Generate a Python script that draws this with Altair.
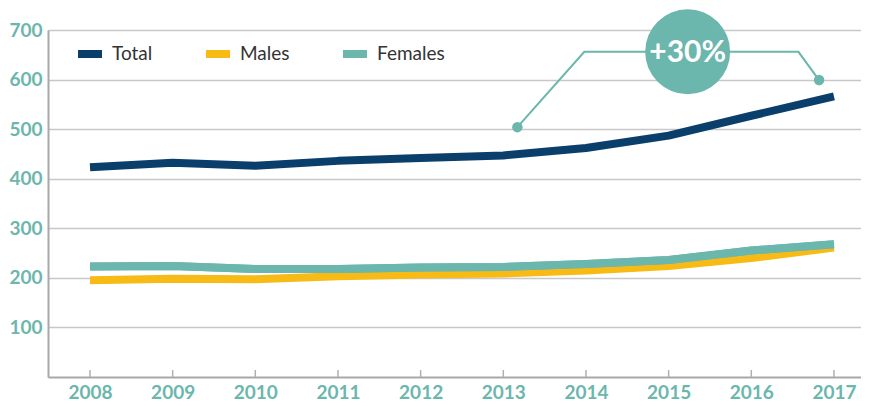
import altair as alt
import pandas as pd

years = [2008, 2009, 2010, 2011, 2012, 2013, 2014, 2015, 2016, 2017]
total = [423, 432, 426, 436, 442, 447, 462, 487, 527, 566]
males = [195, 198, 197, 203, 207, 209, 215, 224, 240, 261]
females = [223, 224, 218, 218, 221, 222, 228, 236, 255, 268]
series = ["Total", "Males", "Females"]
colors = ["#0b3f6b", "#f8bb16", "#6bb6ad"]
y_ticks = [100, 200, 300, 400, 500, 600, 700]

# annotation connector (+30% between 2013 and 2017)
ann_x = [2013.17, 2013.98, 2016.57, 2016.82]
ann_y = [504, 656, 656, 599]
bubble_x = [2015.23]
bubble_y = [656]
bubble_text = ["+30%"]

TEAL = "#6bb6ad"

rows = []
for name, vals in zip(series, [total, males, females]):
    for yr, v in zip(years, vals):
        rows.append({"year": yr, "value": v, "series": name})
df = pd.DataFrame(rows)
df_f = df[df.series == "Females"]

xs = alt.Scale(domain=[2007.492, 2017.327], nice=False, zero=False)
ys = alt.Scale(domain=[0, 700], nice=False)

x_enc = alt.X("year:Q", scale=xs, axis=alt.Axis(
    values=years, format="d", title=None, grid=False, ticks=False,
    domainColor="#a8a8a8", domainWidth=2, labelColor=TEAL, labelFont="Lato",
    labelFontWeight="bold", labelFontSize=19, labelPadding=6))
y_enc = alt.Y("value:Q", scale=ys, axis=alt.Axis(
    values=y_ticks, title=None, ticks=False, grid=True, gridColor="#c8c8c8",
    gridWidth=1.5, domainColor="#a8a8a8", domainWidth=2, labelColor=TEAL,
    labelFont="Lato", labelFontWeight="bold", labelFontSize=19, labelPadding=6))

lines = alt.Chart(df).mark_line(strokeWidth=8, strokeCap="butt", strokeJoin="round").encode(
    x=x_enc, y=y_enc,
    color=alt.Color("series:N", scale=alt.Scale(domain=series, range=colors),
                    legend=alt.Legend(
                        orient="none", legendX=26, legendY=8, direction="horizontal",
                        columns=3, title=None, padding=0, symbolType="stroke",
                        symbolStrokeWidth=8, symbolSize=576, labelOffset=6,
                        columnPadding=37, labelFont="Lato", labelFontSize=19,
                        labelColor="#333333", labelLimit=200)),
)

fem = alt.Chart(df_f).mark_line(strokeWidth=8, strokeCap="butt", strokeJoin="round",
                                color=colors[2]).encode(x="year:Q", y="value:Q")

ticks_df = pd.DataFrame({"year": years})
ticks = alt.Chart(ticks_df).mark_rule(color="#b0b0b0", strokeWidth=1.5).encode(
    x="year:Q", y=alt.datum(0), y2=alt.datum(14))

ann_df = pd.DataFrame({"x": ann_x, "y": ann_y, "o": list(range(len(ann_x)))})
connector = alt.Chart(ann_df).mark_line(color=TEAL, strokeWidth=2).encode(
    x="x:Q", y="y:Q", order="o:Q")
ends = alt.Chart(ann_df[ann_df.o.isin([0, len(ann_x) - 1])]).mark_point(
    filled=True, color=TEAL, size=110, opacity=1, shape="circle").encode(x="x:Q", y="y:Q")

b_df = pd.DataFrame({"x": bubble_x, "y": bubble_y, "t": bubble_text})
bubble = alt.Chart(b_df).mark_point(filled=True, color=TEAL, size=7225, opacity=1,
                                    shape="circle").encode(x="x:Q", y="y:Q")
btext = alt.Chart(b_df).mark_text(font="Lato", fontWeight="bold", fontSize=30,
                                  color="white", align="center", baseline="middle",
                                  dy=1).encode(x="x:Q", y="y:Q", text="t:N")

chart = alt.layer(ticks, lines, fem, connector, ends, bubble, btext).properties(
    width=813, height=347, autosize="none",
    padding={"left": 40, "top": 22, "right": 0, "bottom": 28},
).configure_view(stroke=None).configure(background="white")

chart.save("out.html", embed_options={"renderer": "svg", "actions": False})
